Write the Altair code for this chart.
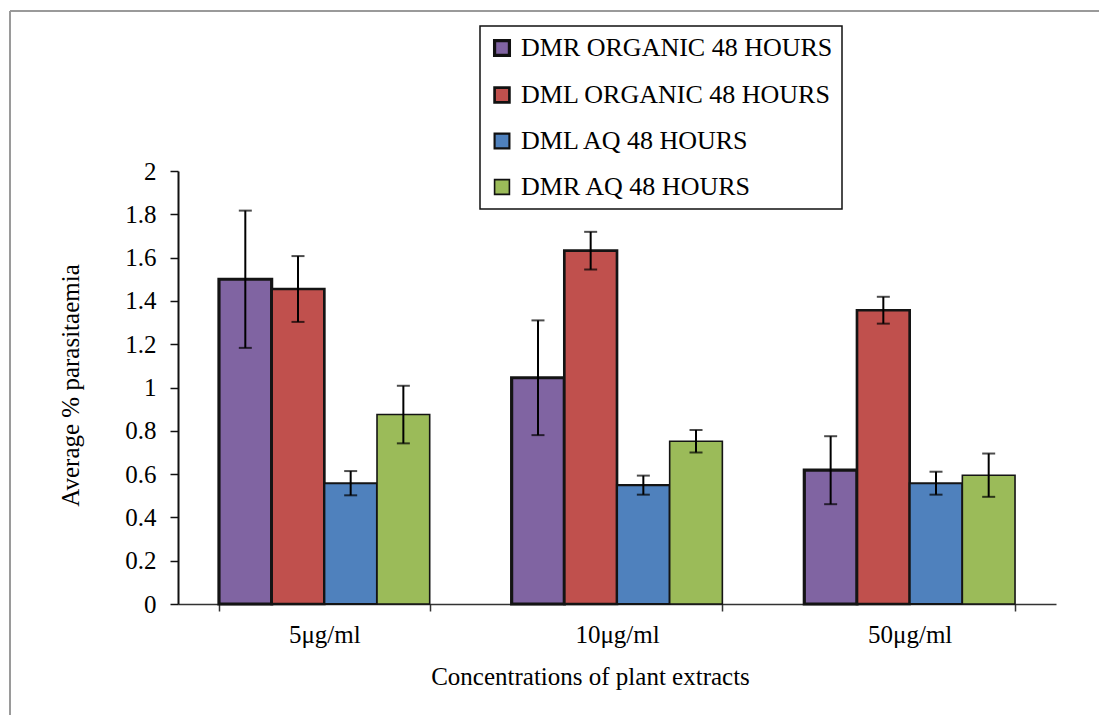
import altair as alt
import pandas as pd

# Concentrations on the x axis and the four extract series (mean and error)
concentrations = ["5μg/ml", "10μg/ml", "50μg/ml"]
series_names = [
    "DMR ORGANIC 48 HOURS",
    "DML ORGANIC 48 HOURS",
    "DML AQ 48 HOURS",
    "DMR AQ 48 HOURS",
]
series_colors = ["#8064A2", "#C0504D", "#4F81BD", "#9BBB59"]

dmr_organic = [1.50, 1.045, 0.618]
dml_organic = [1.455, 1.632, 1.357]
dml_aq = [0.558, 0.549, 0.558]
dmr_aq = [0.875, 0.752, 0.595]

dmr_organic_err = [0.317, 0.265, 0.157]
dml_organic_err = [0.152, 0.087, 0.062]
dml_aq_err = [0.056, 0.044, 0.053]
dmr_aq_err = [0.133, 0.052, 0.100]

means = [dmr_organic, dml_organic, dml_aq, dmr_aq]
errors = [dmr_organic_err, dml_organic_err, dml_aq_err, dmr_aq_err]

rows = []
for name, vals, errs in zip(series_names, means, errors):
    for c, v, e in zip(concentrations, vals, errs):
        rows.append({"conc": c, "series": name, "value": v,
                     "lo": v - e, "hi": v + e})
df = pd.DataFrame(rows)

FONT = "Liberation Serif, Times New Roman, serif"

x_enc = alt.X(
    "conc:N",
    sort=concentrations,
    scale=alt.Scale(paddingInner=0.28, paddingOuter=0.14),
    axis=alt.Axis(
        title="Concentrations of plant extracts",
        labelAngle=0,
        tickBand="extent",
        tickSize=7,
        tickColor="#333333",
        tickWidth=1.5,
        domainColor="#333333",
        domainWidth=1.5,
        labelPadding=11,
        labelFont=FONT,
        titleFont=FONT,
        titleX=412,
        titleY=80,
        titleAlign="center",
        titleBaseline="alphabetic",
    ),
)
xoff = alt.XOffset("series:N", sort=series_names,
                   scale=alt.Scale(domain=series_names))

bars = alt.Chart(df).mark_bar(stroke="#141414").encode(
    x=x_enc,
    xOffset=xoff,
    y=alt.Y(
        "value:Q",
        scale=alt.Scale(domain=[0, 2], nice=False),
        axis=alt.Axis(
            title="Average % parasitaemia",
            values=[0, 0.2, 0.4, 0.6, 0.8, 1, 1.2, 1.4, 1.6, 1.8, 2],
            format="~g",
            grid=False,
            tickSize=8,
            tickColor="#111111",
            tickWidth=1.5,
            domainColor="#111111",
            domainWidth=2,
            labelPadding=14,
            labelFont=FONT,
            titleFont=FONT,
            titleX=-108,
            titleY=214,
            titleAlign="center",
            titleBaseline="middle",
        ),
    ),
    color=alt.Color(
        "series:N",
        sort=series_names,
        scale=alt.Scale(domain=series_names, range=series_colors),
        legend=alt.Legend(title=None, labelFont=FONT),
    ),
    strokeWidth=alt.StrokeWidth(
        "series:N",
        scale=alt.Scale(domain=series_names, range=[3.2, 1.6, 1.6, 1.6]),
        legend=None,
    ),
)

err_rule = alt.Chart(df).mark_rule(color="black", strokeWidth=2).encode(
    x=alt.X("conc:N", sort=concentrations),
    xOffset=xoff,
    y="lo:Q",
    y2="hi:Q",
)
cap_lo = alt.Chart(df).mark_tick(color="black", thickness=2, size=13).encode(
    x=alt.X("conc:N", sort=concentrations),
    xOffset=xoff,
    y="lo:Q",
)
cap_hi = alt.Chart(df).mark_tick(color="black", thickness=2, size=13).encode(
    x=alt.X("conc:N", sort=concentrations),
    xOffset=xoff,
    y="hi:Q",
)

# thin grey frame along the top and left of the figure
frame_df = pd.DataFrame({"k": [0]})
frame_top = alt.Chart(frame_df).mark_rule(color="#9a9a9a", strokeWidth=2).encode(
    x=alt.value(-168), x2=alt.value(921), y=alt.value(-160)
)
frame_left = alt.Chart(frame_df).mark_rule(color="#9a9a9a", strokeWidth=2).encode(
    x=alt.value(-168), y=alt.value(-160), y2=alt.value(544)
)

chart = (
    alt.layer(bars, err_rule, cap_lo, cap_hi, frame_top, frame_left)
    .properties(
        width=878,
        height=433,
        autosize=alt.AutoSizeParams(type="none"),
        padding={"left": 178, "top": 171, "right": 43, "bottom": 111},
        background="white",
    )
    .configure(font=FONT)
    .configure_view(stroke=None)
    .configure_axis(
        labelFont=FONT,
        titleFont=FONT,
        labelFontSize=25,
        titleFontSize=25,
        labelColor="black",
        titleColor="black",
        titleFontWeight="normal",
    )
    .configure_legend(
        orient="none",
        legendX=302,
        legendY=-145,
        strokeColor="#111111",
        strokeWidth=1.5,
        padding=9,
        symbolType="square",
        symbolSize=220,
        symbolStrokeColor="#111111",
        symbolStrokeWidth=1.5,
        symbolOpacity=1,
        labelFont=FONT,
        labelFontSize=26,
        labelColor="black",
        labelLimit=0,
        labelOffset=6,
        rowPadding=20,
        fillColor="white",
    )
)

chart.save("out.html", embed_options={"renderer": "svg", "actions": False})
